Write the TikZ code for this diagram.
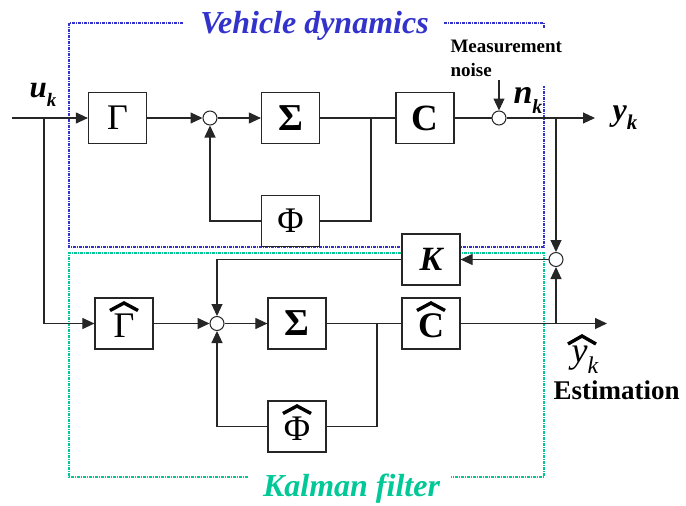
\documentclass[tikz,border=0pt]{standalone}
\usepackage{fontspec}
\setmainfont{Liberation Serif}
\usetikzlibrary{arrows.meta,calc}
\definecolor{vblue}{HTML}{3333CC}
\definecolor{kgreen}{HTML}{00C896}
\newcommand\myfs[1]{\fontsize{#1}{#1}\selectfont}
\begin{document}
\begin{tikzpicture}[x=1pt,y=-1pt,line width=1.1pt,
  box/.style={draw=black!85,fill=white,minimum width=58pt,minimum height=51pt,inner sep=0pt,line width=1.2pt},
  hbox/.style={box,text height=27pt,text depth=0pt},
  sumc/.style={circle,draw=black!85,fill=white,minimum size=14pt,inner sep=0pt,line width=1pt},
  arr/.style={-{Triangle[length=12pt,width=11pt]}},
  wire/.style={draw=black!85},
  hatline/.style={line width=3.4pt,line join=miter,line cap=butt},
  lbl/.style={inner sep=0pt},
  bluedash/.style={draw=vblue,line width=1.3pt,dash pattern=on 3pt off 1pt on 1pt off 1pt},
  greendash/.style={draw=kgreen,line width=1.3pt,dash pattern=on 3pt off 1pt on 1pt off 1pt}]
\useasboundingbox (0,0) rectangle (686,506);
% frames
\draw[bluedash] (183,23) -- (69,23) -- (69,247) -- (544,247) -- (544,86);
\draw[bluedash] (444,23) -- (544,23) -- (544,28);
\draw[greendash] (248,477) -- (69,477) -- (69,253) -- (544,253) -- (544,477) -- (451,477);
\node[lbl,anchor=base,font=\bfseries\itshape\myfs{32},text=vblue] (vd) at (314.5,34) {Vehicle dynamics};
\node[lbl,anchor=base,font=\bfseries\itshape\myfs{32},text=kgreen] (kf) at (351.5,496) {Kalman filter};
% blocks
\node[box,font=\myfs{36}] (G) at (117.5,118) {Γ};
\node[sumc] (s1) at (210,118) {};
\node[box,font=\bfseries\myfs{38}] (S) at (290.5,118) {Σ};
\node[box,font=\myfs{36}] (P) at (290.5,221) {Φ};
\node[box,font=\bfseries\myfs{37}] (C) at (425,118) {C};
\node[sumc] (n) at (499,118) {};
\node[sumc] (s3) at (556,259.5) {};
\node[box,font=\bfseries\itshape\myfs{34}] (K) at (431,259.5) {K};
\node[hbox,font=\myfs{36}] (Gh) at (124,323.5) {Γ};
\node[sumc] (s2) at (217,323.5) {};
\node[box,font=\bfseries\myfs{38}] (Sh) at (297,323.5) {Σ};
\node[hbox,font=\myfs{36}] (Ph) at (297,426.5) {Φ};
\node[hbox,font=\bfseries\myfs{36}] (Ch) at (431,323.5) {C};
\foreach \nd in {Gh,Ph,Ch}
  \draw[hatline] ($(\nd.center)+(-14,-13)$) -- ($(\nd.center)+(0,-20.5)$) -- ($(\nd.center)+(14,-13)$);
% junctions
\coordinate (uin) at (12,118);
\coordinate (ub) at (44,118);
\coordinate (ubd) at (44,323.5);
\coordinate (b1) at (371,118);
\coordinate (nz) at (499,80);
\coordinate (yb) at (556,118);
\coordinate (yend) at (595,118);
\coordinate (b2) at (377,323.5);
\coordinate (yhb) at (556,323.5);
\coordinate (yhend) at (607,323.5);
% connectors
\draw[wire] (uin) -- (ub);
\draw[wire,arr] (ub) -- (G.west);
\draw[wire] (ub) -- (ubd);
\draw[wire,arr] (ubd) -- (Gh.west);
\draw[wire,arr] (G.east) -- (s1.west);
\draw[wire,arr] (s1.east) -- (S.west);
\draw[wire] (S.east) -- (C.west);
\draw[wire] (b1) |- (P.east);
\draw[wire,arr] (P.west) -| (s1.south);
\draw[wire] (C.east) -- (n.west);
\draw[wire,arr] (nz) -- (n.north);
\draw[wire,arr] (n.east) -- (yend);
\draw[wire,arr] (yb) -- (s3.north);
\draw[wire,arr] (s3.west) -- (K.east);
\draw[wire,arr] (K.west) -| (s2.north);
\draw[wire,arr] (Gh.east) -- (s2.west);
\draw[wire,arr] (s2.east) -- (Sh.west);
\draw[wire] (Sh.east) -- (Ch.west);
\draw[wire] (b2) |- (Ph.east);
\draw[wire,arr] (Ph.west) -| (s2.south);
\draw[wire,arr] (Ch.east) -- (yhend);
\draw[wire,arr] (yhb) -- (s3.south);
% labels
\node[lbl,anchor=base west,font=\bfseries\itshape] (uk) at (29,97) {\myfs{31}u\raisebox{-9pt}{\myfs{19}k}};
\node[lbl,anchor=base west,font=\bfseries\itshape] (nk) at (513,103) {\myfs{34}n\raisebox{-10pt}{\myfs{20}k}};
\node[lbl,anchor=base west,font=\bfseries\itshape] (yk) at (612,120) {\myfs{32}y\raisebox{-9pt}{\myfs{21}k}};
\node[lbl,anchor=base west,font=\itshape] (yhk) at (571,362) {\myfs{36}y\raisebox{-11pt}{\myfs{24}k}};
\draw[hatline] ($(yhk.base west)+(-3,-18)$) -- ($(yhk.base west)+(11,-26)$) -- ($(yhk.base west)+(25,-18)$);
\node[lbl,anchor=north west,align=left,font=\bfseries\fontsize{19}{24}\selectfont] (mn) at (450,40) {Measurement\\noise};
\node[lbl,anchor=base west,font=\bfseries\myfs{27}] (est) at (553,399) {Estimation};
\end{tikzpicture}
\end{document}
